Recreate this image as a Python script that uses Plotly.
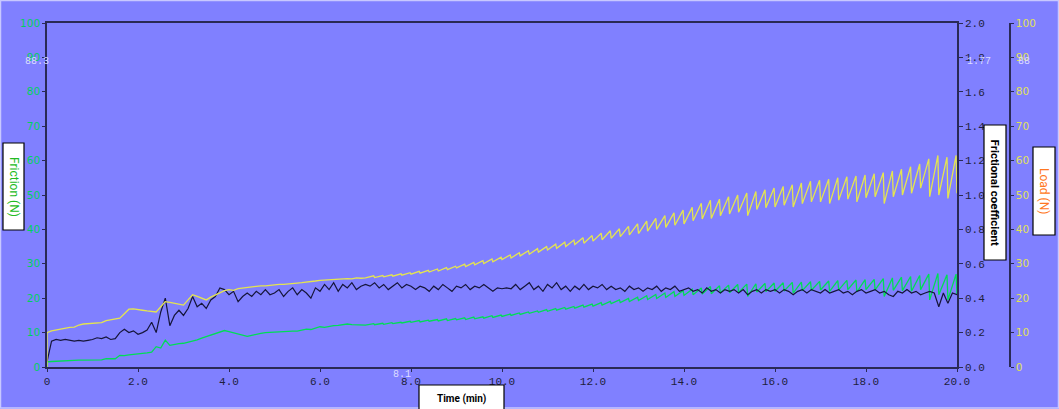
import plotly.graph_objects as go

# ---------------- data ----------------
# time grid for the smooth first part (0.0 .. 6.9 min, 0.1 step)
base_t = [round(0.1 * i, 1) for i in range(70)]

load_base = [10.0, 10.5, 10.8, 11.0, 11.3, 11.5, 11.6, 12.2, 12.5, 12.6,
             12.8, 12.8, 12.9, 13.5, 13.8, 14.0, 14.2, 15.5, 16.8, 16.9,
             16.6, 16.5, 16.3, 16.1, 16.0, 17.5, 19.0, 18.8, 18.6, 18.3,
             18.0, 19.5, 21.0, 20.5, 20.0, 19.5, 20.3, 21.0, 21.5, 22.2,
             22.5, 22.3, 22.8, 23.0, 23.2, 23.3, 23.5, 23.6, 23.6, 23.8,
             23.8, 24.0, 24.0, 24.2, 24.3, 24.4, 24.5, 24.6, 24.8, 25.0,
             25.2, 25.3, 25.3, 25.5, 25.4, 25.6, 25.7, 25.6, 25.9, 25.8]

friction_base = [1.5, 1.6, 1.7, 1.8, 1.8, 1.9, 1.9, 2.0, 2.0, 2.0,
                 2.1, 2.0, 2.1, 2.4, 2.5, 2.4, 3.4, 3.3, 3.5, 3.6,
                 3.7, 3.9, 4.1, 4.3, 5.9, 5.5, 7.8, 6.3, 6.6, 6.8,
                 6.9, 7.2, 7.4, 7.9, 8.4, 8.8, 9.3, 9.6, 10.0, 10.6,
                 10.3, 10.0, 9.6, 9.3, 8.9, 9.2, 9.6, 9.8, 10.0, 10.1,
                 10.0, 10.3, 10.2, 10.5, 10.4, 10.4, 10.8, 11.0, 10.9, 11.3,
                 11.7, 11.5, 11.8, 12.0, 12.1, 12.4, 12.5, 12.3, 12.2, 12.3]

# sawtooth cycles from 7.0 min on (one cycle = 0.2 min): trough then peak
cycle_start = [round(7.0 + 0.2 * k, 1) for k in range(65)]
cycle_rise = 0.18

load_trough = [25.9, 26.0, 26.2, 26.4, 26.7, 27.0, 27.3, 27.6, 27.9, 28.3,
               28.8, 29.2, 29.7, 30.1, 30.6, 31.2, 31.7, 32.3, 32.8, 33.4,
               34.0, 34.5, 35.0, 35.6, 36.0, 36.6, 37.0, 37.4, 37.9, 38.4,
               38.8, 39.5, 40.0, 40.6, 41.2, 41.6, 42.5, 43.0, 43.2, 44.0,
               44.5, 45.0, 44.0, 45.8, 46.3, 46.5, 47.0, 46.5, 47.5, 48.0,
               48.0, 47.5, 48.5, 48.8, 48.0, 49.2, 49.5, 47.5, 49.5, 50.0,
               50.5, 52.0, 49.5, 50.0, 49.0]
load_peak = [26.5, 26.6, 26.8, 27.1, 27.4, 27.8, 28.1, 28.5, 28.9, 29.3,
             29.9, 30.4, 30.9, 31.4, 31.9, 32.6, 33.2, 33.8, 34.4, 35.0,
             35.7, 36.3, 36.9, 37.6, 38.2, 38.9, 39.6, 40.2, 40.9, 41.6,
             42.4, 43.2, 44.0, 44.8, 45.6, 46.4, 47.6, 48.5, 48.8, 49.5,
             50.0, 50.6, 51.0, 51.5, 52.0, 52.5, 53.0, 53.5, 54.0, 54.3,
             54.6, 55.0, 55.3, 55.5, 55.8, 56.2, 56.5, 57.0, 57.5, 58.2,
             59.0, 60.5, 61.5, 61.0, 61.5]
load_end = 50.5

friction_trough = [12.2, 12.3, 12.4, 12.6, 12.8, 13.0, 13.1, 13.3, 13.4, 13.5,
                   13.7, 13.8, 14.0, 14.2, 14.4, 14.7, 15.0, 15.3, 15.6, 15.9,
                   16.2, 16.5, 16.8, 17.1, 17.4, 17.7, 18.0, 18.4, 18.7, 19.0,
                   19.3, 19.6, 19.9, 20.2, 20.5, 20.8, 21.0, 21.2, 21.3, 21.5,
                   21.6, 21.7, 20.5, 21.8, 21.9, 22.0, 22.1, 21.5, 22.2, 22.3,
                   22.4, 22.0, 22.4, 22.5, 21.8, 22.5, 22.4, 20.5, 22.3, 22.2,
                   22.0, 22.5, 19.5, 21.0, 19.5]
friction_peak = [12.6, 12.7, 12.9, 13.0, 13.3, 13.5, 13.6, 13.8, 14.0, 14.1,
                 14.3, 14.5, 14.6, 14.9, 15.1, 15.4, 15.7, 16.0, 16.3, 16.7,
                 17.0, 17.3, 17.6, 18.0, 18.3, 18.7, 19.1, 19.5, 19.9, 20.3,
                 20.7, 21.1, 21.5, 21.9, 22.2, 22.6, 23.0, 23.4, 23.6, 23.8,
                 24.0, 24.1, 24.2, 24.3, 24.4, 24.5, 24.6, 24.7, 24.8, 24.9,
                 25.0, 25.1, 25.2, 25.3, 25.4, 25.5, 25.7, 25.9, 26.1, 26.3,
                 26.6, 27.0, 27.2, 26.8, 27.0]
friction_end = 21.0

# frictional coefficient, 0.0 .. 20.0 min every 0.1 min
coef_t = [round(0.1 * i, 1) for i in range(201)]
coef = [0.03, 0.15, 0.16, 0.155, 0.16, 0.155, 0.15, 0.155, 0.15, 0.155,
        0.16, 0.17, 0.165, 0.175, 0.16, 0.165, 0.20, 0.22, 0.20, 0.21,
        0.19, 0.20, 0.215, 0.26, 0.20, 0.32, 0.40, 0.24, 0.30, 0.33,
        0.30, 0.34, 0.41, 0.35, 0.37, 0.34, 0.39, 0.41, 0.46, 0.45,
        0.42, 0.44, 0.38, 0.41, 0.43, 0.41, 0.44, 0.42, 0.45, 0.42,
        0.43, 0.45, 0.41, 0.44, 0.46, 0.42, 0.45, 0.43, 0.40, 0.46,
        0.44, 0.48, 0.45, 0.49, 0.44, 0.48, 0.46, 0.49, 0.45, 0.47,
        0.48,
        0.47, 0.49, 0.46, 0.48, 0.45, 0.47, 0.49, 0.46, 0.48, 0.47,
        0.45, 0.47, 0.46, 0.44, 0.47, 0.45, 0.48, 0.46, 0.44, 0.47,
        0.46, 0.48, 0.45, 0.47, 0.46, 0.48, 0.46, 0.44, 0.46, 0.455,
        0.46, 0.455, 0.48, 0.45, 0.47, 0.49, 0.45, 0.47, 0.44, 0.48,
        0.46, 0.49, 0.45, 0.47, 0.44, 0.47, 0.45, 0.48, 0.45, 0.47,
        0.46, 0.48, 0.45, 0.47, 0.45, 0.46, 0.44, 0.47, 0.45, 0.46,
        0.44, 0.46, 0.45, 0.47, 0.44, 0.46, 0.45, 0.47, 0.44, 0.45,
        0.46, 0.44, 0.45, 0.43, 0.46, 0.44, 0.45, 0.43, 0.45, 0.44,
        0.45, 0.43, 0.45, 0.42, 0.44, 0.45, 0.43, 0.45, 0.44, 0.45,
        0.43, 0.45, 0.44, 0.42, 0.44, 0.45, 0.43, 0.45, 0.44, 0.43,
        0.45, 0.43, 0.44, 0.45, 0.43, 0.44, 0.42, 0.44, 0.45, 0.43,
        0.44, 0.45, 0.43, 0.44, 0.42, 0.41, 0.44, 0.43, 0.45, 0.43,
        0.44, 0.42, 0.43, 0.44, 0.43, 0.35, 0.43, 0.37, 0.43, 0.42]

x_ticks = [0, 2, 4, 6, 8, 10, 12, 14, 16, 18, 20]
x_tick_labels = ["0", "2.0", "4.0", "6.0", "8.0", "10.0", "12.0", "14.0", "16.0", "18.0", "20.0"]
friction_ticks = [0, 10, 20, 30, 40, 50, 60, 70, 80, 90, 100]
coef_ticks = [0.0, 0.2, 0.4, 0.6, 0.8, 1.0, 1.2, 1.4, 1.6, 1.8, 2.0]
coef_tick_labels = ["0.0", "0.2", "0.4", "0.6", "0.8", "1.0", "1.2", "1.4", "1.6", "1.8", "2.0"]


def build(start_val, base_vals, troughs, peaks, end_val):
    xs = [0.0] + list(base_t)
    ys = [start_val] + list(base_vals)
    for t0, lo, hi in zip(cycle_start, troughs, peaks):
        xs += [t0, round(t0 + cycle_rise, 2)]
        ys += [lo, hi]
    xs.append(20.0)
    ys.append(end_val)
    return xs, ys


load_x, load_y = build(0.0, load_base, load_trough, load_peak, load_end)
fric_x, fric_y = build(0.0, friction_base, friction_trough, friction_peak, friction_end)

# ---------------- layout helpers ----------------
W, H = 1059, 409
ML, MR, MT, MB = 47, 40, 23, 42
PW, PH = W - ML - MR, H - MT - MB
X_END = 957
LOAD_AXIS_X = 1010


def px(x):
    return (x - ML) / PW


def py(y):
    return (H - MB - y) / PH


BG = "#8080FF"
AXIS = "#2a2a55"
GREEN = "#00DD55"
YELLOW = "#E4E450"
DARK = "#15153a"

fig = go.Figure()
fig.add_trace(go.Scatter(x=fric_x, y=fric_y, mode="lines", yaxis="y",
                         line=dict(color=GREEN, width=1.3), name="Friction"))
fig.add_trace(go.Scatter(x=coef_t, y=coef, mode="lines", yaxis="y2",
                         line=dict(color=DARK, width=1.2), name="Frictional coefficient"))
fig.add_trace(go.Scatter(x=load_x, y=load_y, mode="lines", yaxis="y3",
                         line=dict(color=YELLOW, width=1.3), name="Load"))

tickfont_mono = dict(family="Liberation Mono", size=11, color="#1e1e3c")

fig.update_layout(
    width=W, height=H,
    margin=dict(l=ML, r=MR, t=MT, b=MB),
    paper_bgcolor=BG, plot_bgcolor=BG,
    showlegend=False,
    template="none",
    xaxis=dict(domain=[0, px(X_END)], range=[0, 20], tickmode="array",
               tickvals=x_ticks, ticktext=x_tick_labels, showgrid=False,
               zeroline=False, showline=True, linecolor=AXIS, linewidth=1.5,
               mirror=True, ticks="outside", ticklen=3, tickcolor=AXIS,
               tickfont=tickfont_mono, automargin=False),
    yaxis=dict(range=[0, 100], tickmode="array", tickvals=friction_ticks,
               showgrid=False, zeroline=False, showline=True, linecolor=AXIS,
               linewidth=1.5, ticks="outside", ticklen=3, tickcolor=AXIS,
               tickfont=dict(family="DejaVu Sans", size=10.5, color="#00D060"),
               automargin=False),
    yaxis2=dict(range=[0, 2], overlaying="y", side="right", anchor="x",
                tickmode="array", tickvals=coef_ticks, ticktext=coef_tick_labels,
                showgrid=False, zeroline=False, showline=True, linecolor=AXIS,
                linewidth=1.5, ticks="outside", ticklen=4, tickcolor=AXIS,
                tickfont=tickfont_mono, automargin=False),
    yaxis3=dict(range=[0, 100], overlaying="y", side="right", anchor="free",
                position=px(LOAD_AXIS_X), tickmode="array", tickvals=friction_ticks,
                showgrid=False, zeroline=False, showline=True, linecolor=AXIS,
                linewidth=1.5, ticks="outside", ticklen=3, tickcolor=AXIS,
                tickfont=dict(family="DejaVu Sans", size=10.5, color="#E0E058"),
                automargin=False),
)

shapes = []
annotations = []


def label_box(x0, y0, x1, y1, text, color, size, bold=False, angle=90, family="Roboto"):
    shapes.append(dict(type="rect", xref="paper", yref="paper",
                       x0=px(x0), x1=px(x1), y0=py(y1), y1=py(y0),
                       fillcolor="white", line=dict(color="black", width=1.2), layer="above"))
    annotations.append(dict(xref="paper", yref="paper", x=px((x0 + x1) / 2),
                            y=py((y0 + y1) / 2), text=("<b>%s</b>" % text) if bold else text,
                            showarrow=False, textangle=angle,
                            font=dict(family=family, size=size, color=color),
                            xanchor="center", yanchor="middle"))


label_box(3, 143, 24, 230, "Friction (N)", "#22BB22", 12)
label_box(984, 125, 1006, 260, "Frictional coefficient", "#000000", 11.5, bold=True)
label_box(1033, 147, 1055, 235, "Load (N)", "#FF7722", 12)

# Time box (runs off the bottom edge)
shapes.append(dict(type="rect", xref="paper", yref="paper",
                   x0=px(419), x1=px(504), y0=py(412), y1=py(385),
                   fillcolor="white", line=dict(color="black", width=1.2), layer="above"))
annotations.append(dict(xref="paper", yref="paper", x=px(461), y=py(399),
                        text="<b>Time (min)</b>", showarrow=False,
                        font=dict(family="Roboto", size=10, color="black"),
                        xanchor="center", yanchor="middle"))

# stray value labels
stray = [(37, 62, "88.3"), (979, 62, "1.77"), (1024, 62, "88"), (402, 374, "8.1")]
for sx, sy, st in stray:
    annotations.append(dict(xref="paper", yref="paper", x=px(sx), y=py(sy), text=st,
                            showarrow=False, font=dict(family="Liberation Mono", size=10,
                                                       color="#DCDCFF"),
                            xanchor="center", yanchor="middle"))

# faint outer frame
shapes.append(dict(type="rect", xref="paper", yref="paper",
                   x0=px(0.5), x1=px(W - 0.5), y0=py(H - 1), y1=py(0.5),
                   line=dict(color="#C8C8FF", width=1.5), layer="below"))

fig.update_layout(shapes=shapes, annotations=annotations)
fig.write_html("out.html",
               config={"displayModeBar": False},
               post_script="document.body.style.margin='0px';document.body.style.padding='0px';")
